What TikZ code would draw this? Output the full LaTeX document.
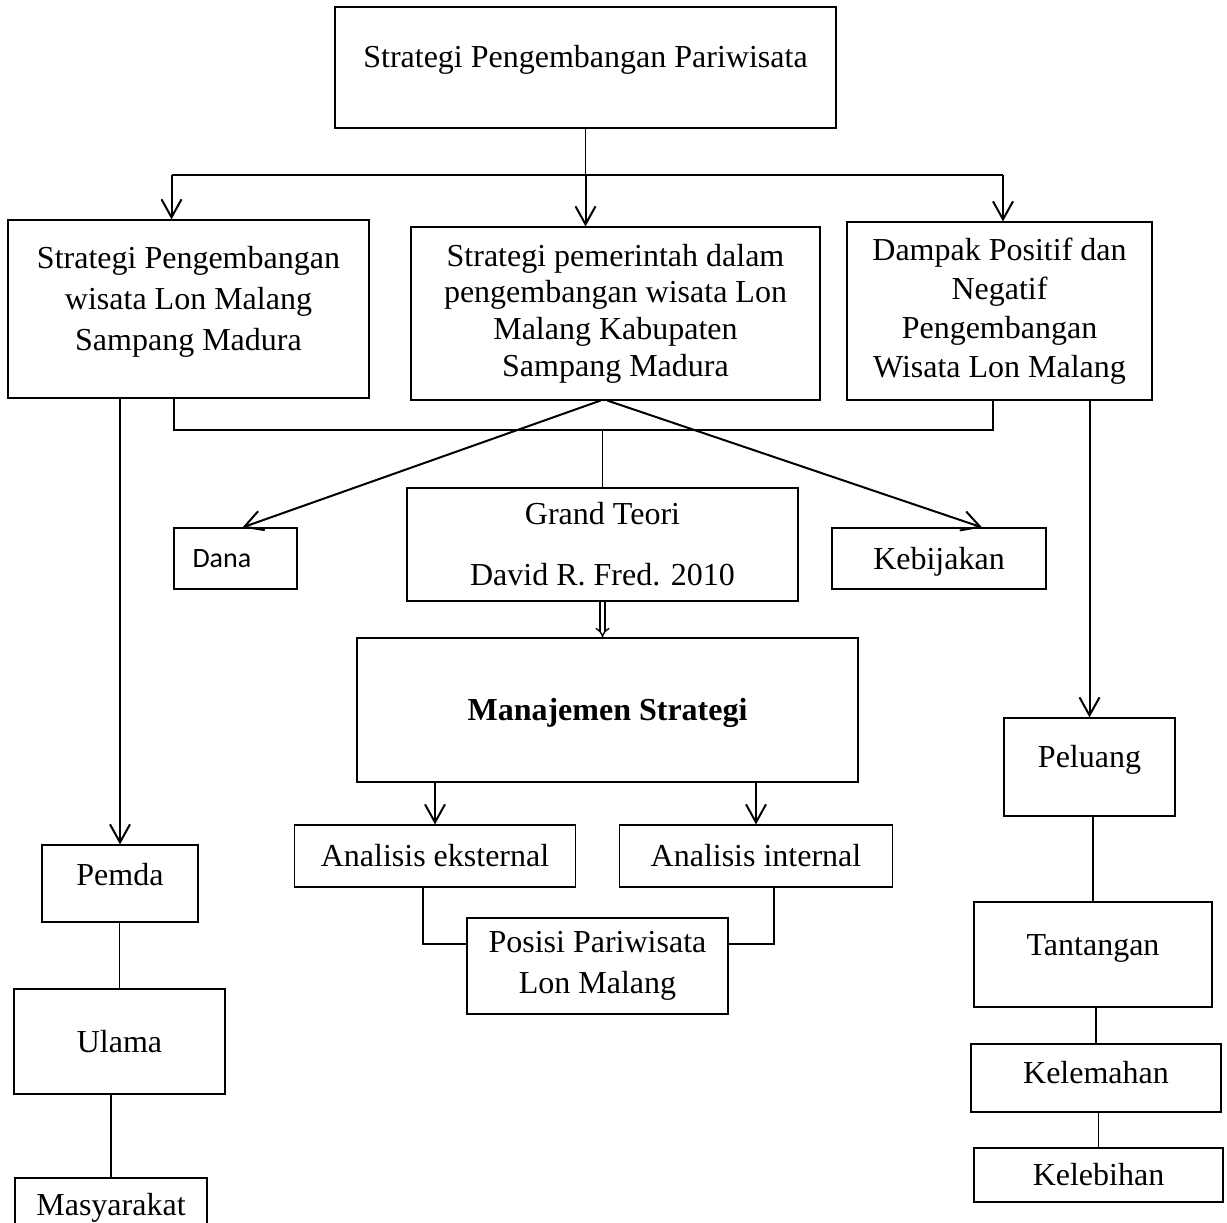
\documentclass[tikz,border=0pt]{standalone}
\usepackage{fontspec}
\setmainfont{Liberation Serif}
\newfontfamily\calibri{Carlito}
\usetikzlibrary{arrows.meta}
\newcommand{\fs}{\fontsize{32}{41}\selectfont}

\tikzset{
  box/.style={draw, line width=1.2pt, inner sep=0pt, align=center, font=\fs},
  oneline/.style={text height=22pt, text depth=#1},
  oneline/.default=1pt,
  arr/.style={line width=2pt, -{Straight Barb[length=18pt,width=20pt]}},
  link/.style={line width=1.2pt},
}

\begin{document}
\begin{tikzpicture}[x=1pt,y=-1pt]
\useasboundingbox (0,0) rectangle (1227,1223);
% top level
\node[box, oneline=22pt, minimum width=501pt, minimum height=121pt] (top) at (585.5,67.5) {Strategi Pengembangan Pariwisata};
\node[box, text depth=21pt, minimum width=361pt, minimum height=178pt] (lbox) at (188.5,309) {Strategi Pengembangan\\wisata Lon Malang\\Sampang Madura};
\node[box, font=\fontsize{32}{36.7}\selectfont, minimum width=409pt, minimum height=173pt] (mbox) at (615.5,313.5) {Strategi pemerintah dalam\\pengembangan wisata Lon\\Malang Kabupaten\\Sampang Madura};
\node[box, font=\fontsize{32}{39}\selectfont, minimum width=305pt, minimum height=178pt] (rbox) at (999.5,311) {Dampak Positif dan\\Negatif\\Pengembangan\\Wisata Lon Malang};
% middle column
\node[box, font=\calibri\fontsize{28}{34}\selectfont, align=left, text width=86pt, inner xsep=18.5pt, minimum height=61pt] (dana) at (235.5,558.5) {Dana};
\node[box, minimum width=391pt, minimum height=113pt] (grand) at (602.5,544.5) {Grand Teori\\[20pt]David R. Fred. 2010};
\node[box, oneline, minimum width=214pt, minimum height=61pt] (kebij) at (939,558.5) {Kebijakan};
\node[box, oneline, font=\fs\bfseries, minimum width=501pt, minimum height=144pt] (manaj) at (607.5,710) {Manajemen Strategi};
\node[box, oneline, minimum width=281pt, minimum height=62pt] (aeks) at (435,856) {Analisis eksternal};
\node[box, oneline, minimum width=273pt, minimum height=62pt] (aint) at (756,856) {Analisis internal};
\node[box, minimum width=261pt, minimum height=96pt] (posisi) at (597.5,966) {Posisi Pariwisata\\Lon Malang};
% left column
\node[box, oneline=18pt, minimum width=156pt, minimum height=77pt] (pemda) at (120,883.5) {Pemda};
\node[box, oneline, minimum width=211pt, minimum height=105pt] (ulama) at (119.5,1041.5) {Ulama};
\node[box, oneline=13pt, minimum width=192pt, minimum height=66pt] (masy) at (111,1211) {Masyarakat};
% right column
\node[box, oneline=21pt, minimum width=171pt, minimum height=98pt] (peluang) at (1089.5,767) {Peluang};
\node[box, oneline=20pt, minimum width=238pt, minimum height=105pt] (tant) at (1093,954.5) {Tantangan};
\node[box, oneline=11pt, minimum width=250pt, minimum height=68pt] (kelem) at (1096,1078) {Kelemahan};
\node[box, oneline, minimum width=249pt, minimum height=54pt] (keleb) at (1098.5,1175) {Kelebihan};

% branches from the top box
\coordinate (busL) at (171.5,175);
\coordinate (busR) at (1003,175);
\draw[link] (top.south) -- (top.south |- busL);
\draw[link] (busL) -- (busR);
\draw[arr] (busL) -- (busL |- lbox.north);
\draw[arr] (top.south |- busL) -- (top.south |- mbox.north);
\draw[arr] (busR) -- (busR |- rbox.north);
% bracket under the three boxes
\coordinate (brL) at (174,430);
\coordinate (brR) at (993,430);
\draw[link] (brL |- lbox.south) -- (brL) -- (brR) -- (brR |- rbox.south);
\draw[link] (grand.north |- brL) -- (grand.north);
\draw[arr] ([xshift=-15pt]mbox.south) -- ([xshift=7pt]dana.north);
\draw[arr] ([xshift=-8pt]mbox.south) -- ([xshift=43pt]kebij.north);
\draw[arr] (pemda.north |- lbox.south) -- (pemda.north);
\draw[arr] (peluang.north |- rbox.south) -- (peluang.north);
\draw[double, double distance=3.5pt, line width=1.3pt, -{Implies[length=7pt,width=18pt]}] (grand.south) -- (grand.south |- manaj.north);
\foreach \b in {aeks,aint} \draw[arr] (\b.north |- manaj.south) -- (\b.north);
\draw[link] ([xshift=-12pt]aeks.south) |- ([yshift=22pt]posisi.west);
\draw[link] ([xshift=18pt]aint.south) |- ([yshift=22pt]posisi.east);
% chains
\foreach \a/\b in {pemda/ulama,ulama/masy,peluang/tant,tant/kelem,kelem/keleb}
  \draw[link] (\b.north |- \a.south) -- (\b.north);
\end{tikzpicture}
\end{document}
